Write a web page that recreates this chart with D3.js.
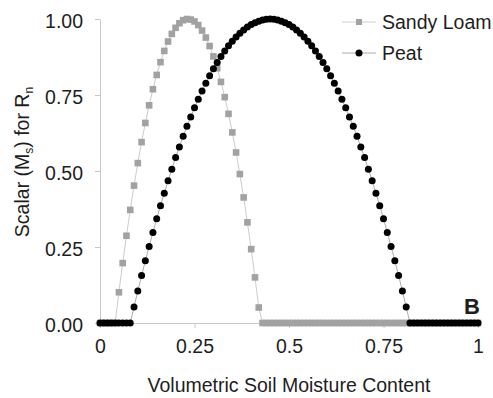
<!DOCTYPE html>
<html lang="en">
<head>
    <meta charset="UTF-8">
    <title>Scalar for Rn</title>
    <script src="https://d3js.org/d3.v7.min.js"></script>
    <style>
        body {
            margin: 0;
            background-color: #ffffff;
        }
        svg text {
            font-family: "Liberation Sans", Arial, sans-serif;
            fill: #1e1e1e;
        }
    </style>
</head>
<body>
    <svg id="chart" width="493" height="398"></svg>
    <script>
        // moisture content, 0 to 1 in steps of 0.01
        const moisture = d3.range(101).map(i => i / 100);

        const sandyLoam = [
            0, 0, 0, 0, 0, 0.101, 0.197, 0.287, 0.372, 0.452,
            0.526, 0.595, 0.658, 0.716, 0.769, 0.816, 0.858, 0.895, 0.926, 0.951,
            0.971, 0.986, 0.996, 1.000, 0.998, 0.992, 0.980, 0.962, 0.939, 0.911,
            0.877, 0.838, 0.793, 0.743, 0.688, 0.627, 0.561, 0.490, 0.413, 0.331,
            0.243, 0.150, 0.051, 0, 0, 0, 0, 0, 0, 0,
            0, 0, 0, 0, 0, 0, 0, 0, 0, 0,
            0, 0, 0, 0, 0, 0, 0, 0, 0, 0,
            0, 0, 0, 0, 0, 0, 0, 0, 0, 0,
            0, 0, 0, 0, 0, 0, 0, 0, 0, 0,
            0, 0, 0, 0, 0, 0, 0, 0, 0, 0,
            0
        ];

        const peat = [
            0, 0, 0, 0, 0, 0, 0, 0, 0, 0.053,
            0.105, 0.156, 0.205, 0.252, 0.298, 0.343, 0.386, 0.427, 0.468, 0.506,
            0.544, 0.579, 0.614, 0.647, 0.678, 0.708, 0.736, 0.763, 0.789, 0.813,
            0.836, 0.857, 0.877, 0.895, 0.912, 0.927, 0.941, 0.953, 0.964, 0.974,
            0.982, 0.988, 0.993, 0.997, 0.999, 1.000, 0.999, 0.997, 0.993, 0.988,
            0.982, 0.974, 0.964, 0.953, 0.941, 0.927, 0.912, 0.895, 0.877, 0.857,
            0.836, 0.813, 0.789, 0.763, 0.736, 0.708, 0.678, 0.647, 0.614, 0.579,
            0.544, 0.506, 0.468, 0.427, 0.386, 0.343, 0.298, 0.252, 0.205, 0.156,
            0.105, 0.053, 0, 0, 0, 0, 0, 0, 0, 0,
            0, 0, 0, 0, 0, 0, 0, 0, 0, 0,
            0
        ];

        const xTicks = [0, 0.25, 0.5, 0.75, 1];
        const xTickLabels = ["0", "0.25", "0.5", "0.75", "1"];
        const yTicks = [0, 0.25, 0.5, 0.75, 1];
        const yTickLabels = ["0.00", "0.25", "0.50", "0.75", "1.00"];
        const seriesNames = ["Sandy Loam", "Peat"];

        const svg = d3.select('#chart');
        const xScale = d3.scaleLinear().domain([0, 1]).range([100, 478]);
        const yScale = d3.scaleLinear().domain([0, 1]).range([323, 19]);

        // axes
        const xAxis = d3.axisBottom(xScale)
                        .tickValues(xTicks)
                        .tickFormat((d, i) => xTickLabels[i])
                        .tickSize(5).tickSizeOuter(0).tickPadding(11);
        const yAxis = d3.axisLeft(yScale)
                        .tickValues(yTicks)
                        .tickFormat((d, i) => yTickLabels[i])
                        .tickSize(5).tickSizeOuter(0).tickPadding(12);

        const gx = svg.append('g').attr('transform', 'translate(0,323)').call(xAxis);
        const gy = svg.append('g').attr('transform', 'translate(100,0)').call(yAxis);
        [gx, gy].forEach(g => {
            g.select('.domain').attr('stroke', '#c8c8c8');
            g.selectAll('.tick line').attr('stroke', '#c8c8c8');
            g.selectAll('.tick text').style('font-size', '19.5px').attr('fill', '#1e1e1e');
        });
        gy.selectAll('.tick text').attr('dy', '0.42em');

        // axis titles
        svg.append('text')
           .attr('x', 289).attr('y', 392)
           .attr('text-anchor', 'middle')
           .style('font-size', '19.5px')
           .text('Volumetric Soil Moisture Content');

        const yTitle = svg.append('text')
           .attr('transform', 'translate(29,162) rotate(-90)')
           .attr('text-anchor', 'middle')
           .style('font-size', '19.5px');
        yTitle.append('tspan').text('Scalar (M');
        yTitle.append('tspan').attr('dy', 4).style('font-size', '12px').text('s');
        yTitle.append('tspan').attr('dy', -4).text(') for R');
        yTitle.append('tspan').attr('dy', 4).style('font-size', '12px').text('n');

        svg.append('text')
           .attr('x', 464).attr('y', 314)
           .style('font-size', '22px')
           .style('font-weight', 'bold')
           .attr('fill', '#111')
           .text('B');

        const line = d3.line()
                       .x((d, i) => xScale(moisture[i]))
                       .y(d => yScale(d));

        // Sandy Loam
        svg.append('path')
           .datum(sandyLoam)
           .attr('fill', 'none')
           .attr('stroke', '#cccccc')
           .attr('stroke-width', 1)
           .attr('d', line);
        svg.append('g').selectAll('rect')
           .data(sandyLoam)
           .join('rect')
           .attr('x', (d, i) => xScale(moisture[i]) - 3.3)
           .attr('y', d => yScale(d) - 3.3)
           .attr('width', 6.6).attr('height', 6.6)
           .attr('fill', '#a2a2a2');

        // Peat
        svg.append('path')
           .datum(peat)
           .attr('fill', 'none')
           .attr('stroke', '#999999')
           .attr('stroke-width', 0.8)
           .attr('d', line);
        svg.append('g').selectAll('circle')
           .data(peat)
           .join('circle')
           .attr('cx', (d, i) => xScale(moisture[i]))
           .attr('cy', d => yScale(d))
           .attr('r', 3.5)
           .attr('fill', '#000');

        // legend
        const legend = svg.append('g');
        seriesNames.forEach((name, i) => {
            const y = 22 + i * 31;
            legend.append('line')
                  .attr('x1', 342).attr('x2', 376).attr('y1', y).attr('y2', y)
                  .attr('stroke', i === 0 ? '#d0d0d0' : '#aaaaaa')
                  .attr('stroke-width', 1);
            if (i === 0) {
                legend.append('rect')
                      .attr('x', 356).attr('y', y - 3)
                      .attr('width', 6).attr('height', 6)
                      .attr('fill', '#a2a2a2');
            } else {
                legend.append('circle')
                      .attr('cx', 359).attr('cy', y).attr('r', 3.5)
                      .attr('fill', '#000');
            }
            legend.append('text')
                  .attr('x', 382).attr('y', y + 7)
                  .style('font-size', '19.5px')
                  .text(name);
        });
    </script>
</body>
</html>
